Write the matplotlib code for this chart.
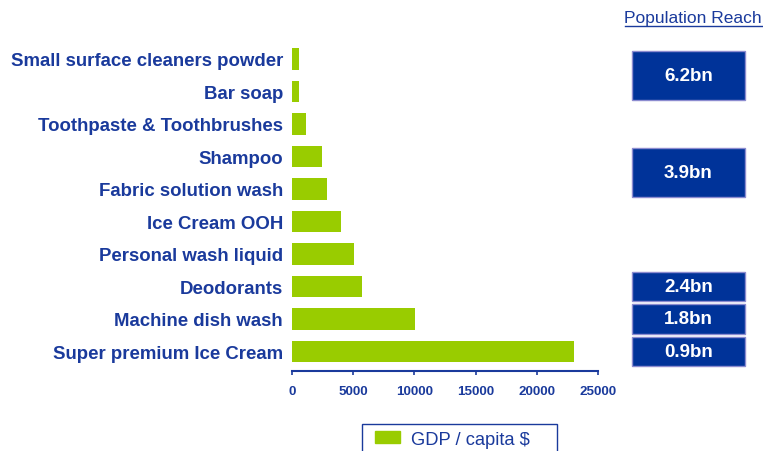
import matplotlib.pyplot as plt
from matplotlib.patches import Rectangle, Patch
from matplotlib.lines import Line2D
import matplotlib.transforms as mtransforms

plt.rcParams['font.family'] = ['Liberation Sans', 'DejaVu Sans']

# 数据：从下到上
categories = ['Super premium Ice Cream', 'Machine dish wash', 'Deodorants',
              'Personal wash liquid', 'Ice Cream OOH', 'Fabric solution wash',
              'Shampoo', 'Toothpaste & Toothbrushes', 'Bar soap',
              'Small surface cleaners powder']
gdp = [23050, 10050, 5720, 5070, 4000, 2860, 2450, 1140, 600, 600]
xticks = [0, 5000, 10000, 15000, 20000, 25000]

# 人口覆盖，每组对应的行
reach = ['6.2bn', '3.9bn', '2.4bn', '1.8bn', '0.9bn']
reach_rows = [(8, 9), (5, 6), (2, 2), (1, 1), (0, 0)]

BLUE_TXT = '#1a3a9c'
BLUE_BOX = '#003399'
GREEN = '#99cc00'

W, H = 763, 452
fig = plt.figure(figsize=(W / 100, H / 100), dpi=100)
ax = fig.add_axes([292 / W, 1 - 372 / H, 306 / W, 331.5 / H])

y = list(range(len(categories)))
ax.barh(y, gdp, height=0.66, color=GREEN)
ax.set_xlim(0, 25000)
ax.set_ylim(-0.6, 9.6)
ax.set_yticks(y)
ax.set_yticklabels(categories, fontsize=13.4, fontweight='bold', color=BLUE_TXT)
ax.tick_params(axis='y', length=0, pad=6.5)
ax.set_xticks(xticks)
ax.set_xticklabels([str(t) for t in xticks], fontsize=9.6, fontweight='bold', color=BLUE_TXT)
ax.tick_params(axis='x', direction='out', length=3, width=1.2, color=BLUE_TXT, pad=7)
for s in ['top', 'right', 'left']:
    ax.spines[s].set_visible(False)
ax.spines['bottom'].set_color(BLUE_TXT)
ax.spines['bottom'].set_linewidth(1.5)

# 右边的人口覆盖方块
trans = mtransforms.blended_transform_factory(fig.transFigure, ax.transData)
bx0, bw = 632 / W, 113 / W
for lab, (lo, hi) in zip(reach, reach_rows):
    mid = (lo + hi) / 2
    h = 0.92 if lo == hi else 1.5
    ax.add_patch(Rectangle((bx0, mid - h / 2), bw, h, transform=trans,
                           facecolor=BLUE_BOX, edgecolor='#8c8cd0', lw=1,
                           clip_on=False))
    ax.text(bx0 + bw / 2, mid, lab, transform=trans, ha='center', va='center',
            color='white', fontsize=13.5, fontweight='bold')

fig.text(693 / W, 1 - 18 / H, 'Population Reach', ha='center', va='center',
         fontsize=12.5, color=BLUE_TXT)
fig.add_artist(Line2D([625 / W, 762 / W], [1 - 27 / H, 1 - 27 / H],
                      color=BLUE_TXT, lw=1))

# 图例：边框画到图外，下边被裁掉
fig.add_artist(Rectangle((362 / W, 1 - 470 / H), 195 / W, 45 / H,
                         transform=fig.transFigure, facecolor='none',
                         edgecolor=BLUE_TXT, lw=1))
leg = fig.legend(handles=[Patch(color=GREEN, label='GDP / capita $')],
                 loc='upper left', bbox_to_anchor=(371 / W, 1 - 428 / H),
                 fontsize=13.2, frameon=False,
                 borderpad=0.2, handlelength=1.4, handleheight=0.67,
                 handletextpad=0.6, borderaxespad=0)
for t in leg.get_texts():
    t.set_color(BLUE_TXT)

fig.savefig('out.png', dpi=100)
